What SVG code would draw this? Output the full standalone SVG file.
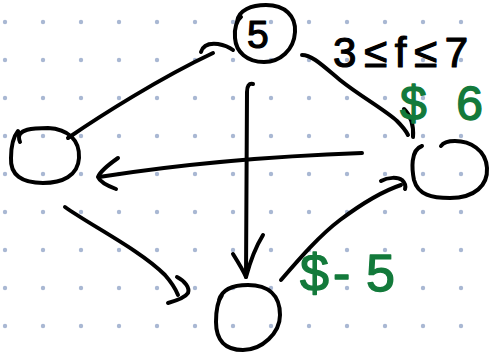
<svg xmlns="http://www.w3.org/2000/svg" width="491" height="358" viewBox="0 0 491 358">
  <defs>
    <pattern id="dots" x="-14" y="3" width="38" height="38" patternUnits="userSpaceOnUse">
      <circle cx="19" cy="19" r="2.2" fill="#a9b8d3"/>
    </pattern>
    <style>
      .ink { fill: none; stroke: #000; stroke-width: 4; stroke-linecap: round; stroke-linejoin: round; }
      .lbl { font-family: "Liberation Sans", Arial, sans-serif; fill: #000; stroke: #000; stroke-width: 1.2; stroke-linejoin: round; }
      .cost { font-family: "Liberation Sans", Arial, sans-serif; fill: #137a3b; stroke: #137a3b; stroke-width: 1.4; stroke-linejoin: round; }
    </style>
  </defs>

  <!-- dotted paper background -->
  <rect width="491" height="358" fill="#fff"/>
  <rect width="491" height="358" fill="url(#dots)"/>

  <!-- connectors -->
  <g id="edges">
    <!-- left node to node 5 -->
    <path class="ink" d="M68,138 C100,116 160,78 213,53"/>
    <path class="ink" d="M201,52 C203,45 210,43 218,44 C224,45 229,47 233,50"/>
    <!-- node 5 to bottom node -->
    <path class="ink" d="M253,84 C249,83 247,86 247,92 L246,277"/>
    <path class="ink" d="M233,254 C238,262 243,270 246,277 C250,262 255,248 263,235"/>
    <!-- node 5 to right node -->
    <path class="ink" d="M302,55 C312,55 322,65 340,80 C360,96 385,110 397,121 C403,127 406,131 408,135"/>
    <path class="ink" d="M404,109 C410,115 414,124 413,137"/>
    <!-- right node to left node -->
    <path class="ink" d="M362,153 Q220,158 99,177"/>
    <path class="ink" d="M118,158 C108,165 100,172 98,177 C100,182 108,186 116,189"/>
    <!-- left node to bottom node -->
    <path class="ink" d="M65,207 C90,225 140,250 165,275 C172,283 176,290 178,295"/>
    <path class="ink" d="M177,277 C185,281 190,288 188,293 C185,298 175,301 168,303"/>
    <!-- bottom node to right node -->
    <path class="ink" d="M281,280 C300,258 320,235 340,220 C360,205 380,192 401,185"/>
    <path class="ink" d="M381,181 C388,177 398,177 402,180 C405,183 406,186 405,189"/>
  </g>

  <!-- nodes -->
  <g id="node-5">
    <path class="ink" d="M237,22 C238,10 252,5 266,5 C285,5 296,16 295,32 C294,50 280,62 264,62 C247,62 236,52 235,38 C234,28 237,20 241,17"/>
    <text class="lbl" x="247" y="48" font-size="39">5</text>
  </g>
  <g id="node-left">
    <path class="ink" d="M20,142 C14,128 36,128 48,128 C68,129 80,140 79,158 C78,176 62,183 43,183 C22,183 10,175 11,158 C11,145 14,136 18,131"/>
  </g>
  <g id="node-right">
    <path class="ink" d="M422,146 C410,150 412,170 414,180 C418,195 432,198 450,198 C475,198 488,185 487,168 C486,150 470,141 455,141 C448,141 443,143 441,146"/>
  </g>
  <g id="node-bottom">
    <path class="ink" d="M219,300 C222,290 232,285 248,285 C268,285 280,295 280,315 C280,333 262,350 243,350 C225,350 216,340 216,322 C216,310 217,302 222,295"/>
  </g>

  <!-- edge labels -->
  <g id="labels">
    <text class="lbl" x="333" y="67" font-size="42" textLength="135" lengthAdjust="spacing">3≤f≤7</text>
    <text class="cost" x="400" y="120" font-size="48" textLength="83" lengthAdjust="spacing">$6</text>
    <text class="cost" x="300 333 366" y="291" font-size="52">$-5</text>
  </g>
</svg>
